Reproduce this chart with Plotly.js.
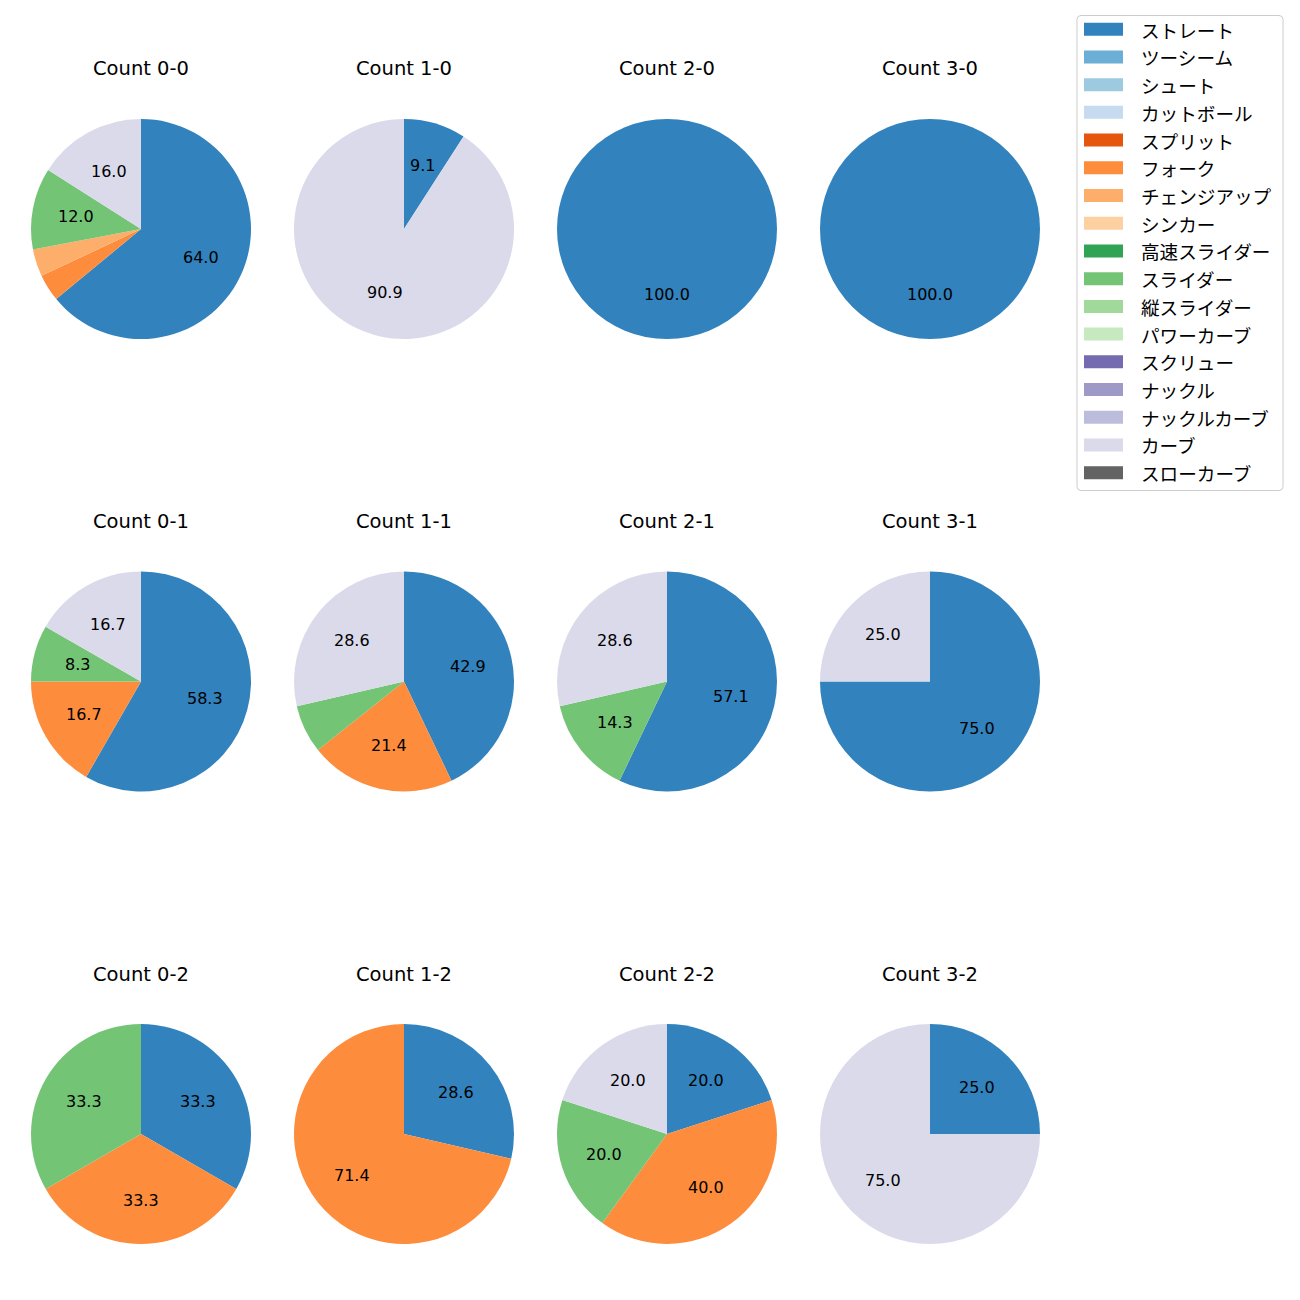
<!DOCTYPE html>
<html>
<head>
<meta charset="utf-8">
<script src="https://cdn.plot.ly/plotly-3.0.1.min.js"></script>
<style>html,body{margin:0;padding:0;background:#fff;}#chart{width:1300px;height:1300px;}</style>
</head>
<body>
<div id="chart"></div>
<script>
const pitchTypes = ["ストレート","ツーシーム","シュート","カットボール","スプリット","フォーク","チェンジアップ","シンカー","高速スライダー","スライダー","縦スライダー","パワーカーブ","スクリュー","ナックル","ナックルカーブ","カーブ","スローカーブ"];
const pitchColors = ["#3182bd","#6baed6","#9ecae1","#c6dbef","#e6550d","#fd8d3c","#fdae6b","#fdd0a2","#31a354","#74c476","#a1d99b","#c7e9c0","#756bb1","#9e9ac8","#bcbddc","#dadaeb","#636363"];

const countTitles = ["Count 0-0","Count 1-0","Count 2-0","Count 3-0","Count 0-1","Count 1-1","Count 2-1","Count 3-1","Count 0-2","Count 1-2","Count 2-2","Count 3-2"];

// percentages per pitch type, in pitchTypes order
const v00 = [64.0,0,0,0,0,4.0,4.0,0,0,12.0,0,0,0,0,0,16.0,0];
const v10 = [9.1,0,0,0,0,0,0,0,0,0,0,0,0,0,0,90.9,0];
const v20 = [100.0,0,0,0,0,0,0,0,0,0,0,0,0,0,0,0,0];
const v30 = [100.0,0,0,0,0,0,0,0,0,0,0,0,0,0,0,0,0];
const v01 = [58.3,0,0,0,0,16.7,0,0,0,8.3,0,0,0,0,0,16.7,0];
const v11 = [42.9,0,0,0,0,21.4,0,0,0,7.1,0,0,0,0,0,28.6,0];
const v21 = [57.1,0,0,0,0,0,0,0,0,14.3,0,0,0,0,0,28.6,0];
const v31 = [75.0,0,0,0,0,0,0,0,0,0,0,0,0,0,0,25.0,0];
const v02 = [33.3,0,0,0,0,33.3,0,0,0,33.3,0,0,0,0,0,0,0];
const v12 = [28.6,0,0,0,0,71.4,0,0,0,0,0,0,0,0,0,0,0];
const v22 = [20.0,0,0,0,0,40.0,0,0,0,20.0,0,0,0,0,0,20.0,0];
const v32 = [25.0,0,0,0,0,0,0,0,0,0,0,0,0,0,0,75.0,0];
const allValues = [v00,v10,v20,v30,v01,v11,v21,v31,v02,v12,v22,v32];

const W = 1300, H = 1300;
const LATIN = "DejaVu Sans, Noto Sans, sans-serif";
const CJK = "Noto Sans CJK JP, Noto Sans, sans-serif";
const colX = [141, 404, 667, 930];
const rowY = [229, 681.5, 1134];
const R = 110;
const px = x => x / W;
const py = y => 1 - y / H;

const traces = [];
const annotations = [];
const shapes = [];

allValues.forEach((vals, i) => {
  const cx = colX[i % 4], cy = rowY[Math.floor(i / 4)];
  traces.push({
    type: "pie",
    labels: pitchTypes,
    values: vals,
    sort: false,
    direction: "clockwise",
    rotation: 0,
    textinfo: "none",
    hoverinfo: "label+percent",
    showlegend: false,
    marker: {colors: pitchColors, line: {width: 0}},
    domain: {x: [px(cx - R), px(cx + R)], y: [py(cy + R), py(cy - R)]}
  });
  annotations.push({
    text: countTitles[i], xref: "paper", yref: "paper",
    x: px(cx), y: py(cy - 160), xanchor: "center", yanchor: "middle",
    showarrow: false, font: {family: LATIN, size: 19.5, color: "#000"}
  });
  const total = vals.reduce((a, b) => a + b, 0);
  let cum = 0;
  vals.forEach(v => {
    if (v > 0) {
      const a = (90 - 360 * (cum + v / 2) / total) * Math.PI / 180;
      if (v >= 8) {
        annotations.push({
          text: v.toFixed(1), xref: "paper", yref: "paper",
          x: px(cx + 0.6 * R * Math.cos(a)), y: py(cy - 0.6 * R * Math.sin(a)),
          xanchor: "center", yanchor: "middle", showarrow: false,
          font: {family: LATIN, size: 16, color: "#000"}
        });
      }
    }
    cum += v;
  });
});

// custom legend
const lx0 = 1077, lx1 = 1283, ly0 = 15.5, ly1 = 490.5, rr = 4;
shapes.push({
  type: "path", xref: "paper", yref: "paper",
  path: `M ${px(lx0+rr)} ${py(ly0)} L ${px(lx1-rr)} ${py(ly0)} Q ${px(lx1)} ${py(ly0)} ${px(lx1)} ${py(ly0+rr)} L ${px(lx1)} ${py(ly1-rr)} Q ${px(lx1)} ${py(ly1)} ${px(lx1-rr)} ${py(ly1)} L ${px(lx0+rr)} ${py(ly1)} Q ${px(lx0)} ${py(ly1)} ${px(lx0)} ${py(ly1-rr)} L ${px(lx0)} ${py(ly0+rr)} Q ${px(lx0)} ${py(ly0)} ${px(lx0+rr)} ${py(ly0)} Z`,
  fillcolor: "rgba(255,255,255,0.8)", line: {color: "#cccccc", width: 1}
});
pitchTypes.forEach((name, k) => {
  const yc = 29.2 + k * 27.72;
  shapes.push({
    type: "rect", xref: "paper", yref: "paper",
    x0: px(1084), x1: px(1123), y0: py(yc - 6.5), y1: py(yc + 6.5),
    fillcolor: pitchColors[k], line: {width: 0}
  });
  annotations.push({
    text: name, xref: "paper", yref: "paper",
    x: px(1139), y: py(yc), xanchor: "left", yanchor: "middle",
    showarrow: false, font: {family: CJK, size: 18.6, color: "#000"}
  });
});

const layout = {
  width: W, height: H,
  margin: {l: 0, r: 0, t: 0, b: 0},
  paper_bgcolor: "#fff",
  showlegend: false,
  annotations: annotations,
  shapes: shapes
};
Plotly.newPlot("chart", traces, layout, {displayModeBar: false, staticPlot: true});
</script>
</body>
</html>
